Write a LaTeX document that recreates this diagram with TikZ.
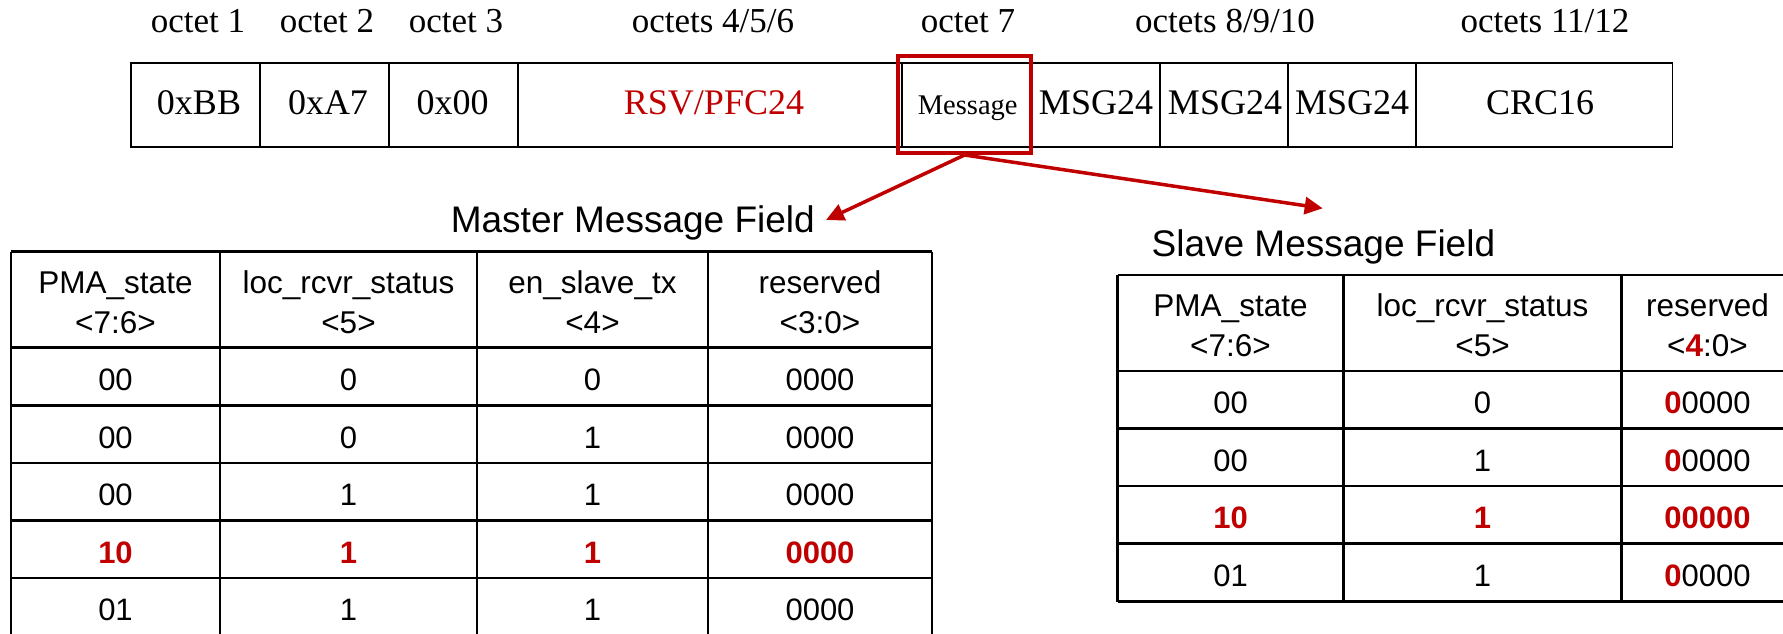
\documentclass[tikz,border=0pt]{standalone}
\usepackage{fontspec}
\setmainfont{Liberation Serif}
\newfontfamily\arialf{Liberation Sans}
\usetikzlibrary{arrows.meta}
\definecolor{dred}{HTML}{C00000}
\tikzset{
  barline/.style={line width=1.6pt, draw=black},
  tabline/.style={line width=2.6pt, draw=black},
  lbl/.style={anchor=base, inner sep=0pt, font=\fontsize{35}{40}\selectfont},
  bartxt/.style={anchor=base, inner sep=0pt, font=\fontsize{36}{40}\selectfont},
  ttl/.style={inner sep=0pt, font=\arialf\fontsize{37}{42}\selectfont},
  hdr/.style={anchor=base, inner sep=0pt, align=center, font=\arialf\fontsize{31.5}{40}\selectfont},
  val/.style={anchor=base, inner sep=0pt, font=\arialf\fontsize{31}{36}\selectfont},
  hil/.style={anchor=base, inner sep=0pt, text=dred, font=\arialf\bfseries\fontsize{31}{36}\selectfont},
  redbox/.style={draw=dred, line width=4pt, inner sep=0pt},
  redarrow/.style={draw=dred, line width=3.5pt, -{Triangle[length=18pt,width=17pt]}},
}
\newcommand{\rb}[1]{{\color{dred}\bfseries #1}}
\begin{document}
\begin{tikzpicture}[x=1pt,y=-1pt]
\useasboundingbox (0,0) rectangle (1783,634);
\clip (0,0) rectangle (1783,634);
\fill[white] (0,0) rectangle (1783,634);

% ---- octet labels ----
\node[lbl] (l1) at (198,33) {octet 1};
\node[lbl] (l2) at (327,33) {octet 2};
\node[lbl] (l3) at (456,33) {octet 3};
\node[lbl] (l4) at (713,33) {octets 4/5/6};
\node[lbl] (l5) at (968,33) {octet 7};
\node[lbl] (l6) at (1225,33) {octets 8/9/10};
\node[lbl] (l7) at (1545,33) {octets 11/12};

% ---- frame bar ----
\draw[barline] (131,63.3) rectangle (1672.5,146.7);
\foreach \x in {260,389,517.7,901.7,1032,1160,1288,1416}
  \draw[barline] (\x,63.3) -- (\x,146.7);
\node[bartxt] (b1) at (199,114) {0xBB};
\node[bartxt] (b2) at (328,114) {0xA7};
\node[bartxt] (b3) at (452.5,114) {0x00};
\node[bartxt, text=dred] (b4) at (714,114) {RSV/PFC24};
\node[anchor=base, inner sep=0pt, font=\fontsize{28.5}{32}\selectfont] (b5) at (967.7,114) {Message};
\node[bartxt] (b6) at (1096,114) {MSG24};
\node[bartxt] (b7) at (1225,114) {MSG24};
\node[bartxt] (b8) at (1352,114) {MSG24};
\node[bartxt] (b9) at (1540,114) {CRC16};

% red highlight box
\node[redbox, minimum width=133.5pt, minimum height=96.7pt] (rbox) at (964.55,104.65) {};

% ---- titles ----
\node[ttl, anchor=base east] (mt) at (815,232) {Master Message Field};
\node[ttl, anchor=base west] (st) at (1151.5,256) {Slave Message Field};
\coordinate (mtip) at (826,220);
\coordinate (stip) at (1322.7,208.3);
\draw[redarrow] (rbox.south) -- (mtip);
\draw[redarrow] (rbox.south) -- (stip);

% ---- master table ----
\foreach \x in {11,220,477,708,932}
  \draw[tabline] (\x,251.7) -- (\x,640);
\foreach \y in {251.7,347.7,405.3,462.9,520.5,578.1,635.7}
  \draw[tabline] (11,\y) -- (932,\y);
\node[hdr] (mh1) at (115.5,333.3) {PMA\_state\\<7:6>};
\node[hdr] (mh2) at (348.5,333.3) {loc\_rcvr\_status\\<5>};
\node[hdr] (mh3) at (592.5,333.3) {en\_slave\_tx\\<4>};
\node[hdr] (mh4) at (820,333.3) {reserved\\<3:0>};
\node[val] (m11) at (115.5,390.5) {00};
\node[val] (m12) at (348.5,390.5) {0};
\node[val] (m13) at (592.5,390.5) {0};
\node[val] (m14) at (820,390.5) {0000};
\node[val] (m21) at (115.5,448.1) {00};
\node[val] (m22) at (348.5,448.1) {0};
\node[val] (m23) at (592.5,448.1) {1};
\node[val] (m24) at (820,448.1) {0000};
\node[val] (m31) at (115.5,505.7) {00};
\node[val] (m32) at (348.5,505.7) {1};
\node[val] (m33) at (592.5,505.7) {1};
\node[val] (m34) at (820,505.7) {0000};
\node[hil] (m41) at (115.5,563.3) {10};
\node[hil] (m42) at (348.5,563.3) {1};
\node[hil] (m43) at (592.5,563.3) {1};
\node[hil] (m44) at (820,563.3) {0000};
\node[val] (m51) at (115.5,620.9) {01};
\node[val] (m52) at (348.5,620.9) {1};
\node[val] (m53) at (592.5,620.9) {1};
\node[val] (m54) at (820,620.9) {0000};

% ---- slave table ----
\foreach \x in {1117.5,1343.5,1621.5,1795}
  \draw[tabline] (\x,275) -- (\x,601.5);
\foreach \y in {275,371,428.5,486,543.5,601.5}
  \draw[tabline] (1117.5,\y) -- (1795,\y);
\node[hdr] (sh1) at (1230.5,356.6) {PMA\_state\\<7:6>};
\node[hdr] (sh2) at (1482.5,356.6) {loc\_rcvr\_status\\<5>};
\node[hdr] (sh3) at (1707.5,356.6) {reserved\\<\rb{4}:0>};
\node[val] (s11) at (1230.5,413.6) {00};
\node[val] (s12) at (1482.5,413.6) {0};
\node[val] (s13) at (1707.5,413.6) {\rb{0}0000};
\node[val] (s21) at (1230.5,471.1) {00};
\node[val] (s22) at (1482.5,471.1) {1};
\node[val] (s23) at (1707.5,471.1) {\rb{0}0000};
\node[hil] (s31) at (1230.5,528.6) {10};
\node[hil] (s32) at (1482.5,528.6) {1};
\node[hil] (s33) at (1707.5,528.6) {00000};
\node[val] (s41) at (1230.5,586.1) {01};
\node[val] (s42) at (1482.5,586.1) {1};
\node[val] (s43) at (1707.5,586.1) {\rb{0}0000};
\end{tikzpicture}
\end{document}
